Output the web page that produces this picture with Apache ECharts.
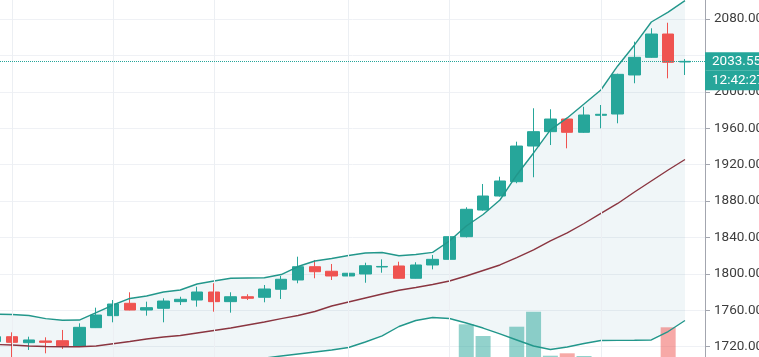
<!DOCTYPE html>
<html><head><meta charset="utf-8">
<script src="https://cdn.jsdelivr.net/npm/echarts@6/dist/echarts.min.js"></script>
<style>html,body{margin:0;padding:0;background:#fff;overflow:hidden}#c{width:759px;height:357px}</style>
</head><body><div id="c"></div>
<script>
// Candles (index 0 is the partly visible bar at the left edge)
const opens  = [1725.6,1731.0,1724.4,1726.3,1726.6,1720.8,1740.9,1754.1,1767.7,1760.3,1762.2,1769.5,1771.3,1780.1,1769.5,1774.9,1774.3,1783.1,1793.3,1807.9,1802.9,1797.7,1799.9,1807.6,1808.7,1795.2,1809.8,1816.0,1840.9,1870.2,1885.6,1901.3,1940.5,1956.3,1970.2,1955.6,1974.3,1975.7,2018.6,2038.0,2063.6,2032.9];
const closes = [1731.0,1724.8,1727.4,1724.8,1721.1,1741.3,1754.8,1766.9,1760.3,1762.9,1770.2,1772.1,1780.1,1769.5,1774.9,1773.2,1783.4,1794.1,1807.9,1802.4,1797.7,1800.7,1809.0,1808.2,1795.2,1809.8,1816.0,1840.9,1871.0,1885.6,1902.1,1940.5,1956.3,1970.2,1955.6,1974.6,1975.4,2019.3,2038.0,2063.6,2032.5,2033.55];
const lows   = [1722.0,1706.0,1716.4,1712.7,1717.5,1720.5,1740.5,1746.8,1760.0,1754.1,1746.8,1765.8,1764.0,1758.5,1757.4,1771.3,1768.8,1772.4,1789.7,1795.2,1793.3,1797.0,1790.3,1801.3,1795.0,1795.0,1805.0,1815.0,1840.0,1869.5,1885.0,1899.6,1906.2,1941.6,1938.0,1955.0,1960.0,1965.5,2009.5,2037.5,2014.9,2018.6];
const highs  = [1733.5,1735.8,1731.0,1730.3,1738.4,1745.7,1762.9,1771.3,1779.8,1769.5,1773.2,1774.9,1785.9,1789.7,1779.8,1777.6,1787.8,1797.7,1818.9,1815.3,1810.9,1814.2,1812.3,1816.0,1813.4,1812.8,1820.8,1843.8,1873.2,1898.8,1906.8,1945.3,1982.0,1980.9,1970.5,1983.7,1985.6,2020.0,2055.2,2069.9,2076.0,2036.1];
const volumes = [12,15,9,8,11,17,16,14,13,10,12,9,13,15,11,7,12,14,18,12,11,10,13,9,14,12,15,19,52.7,41,18,50.3,65.3,21.3,23.7,21,17,19,18,16,49.7,6];
// Bollinger bands
const upperBand = [1755.8,1755.4,1754.3,1750.8,1749.0,1749.3,1757.4,1765.8,1773.0,1775.7,1780.1,1782.3,1788.9,1792.2,1795.2,1795.5,1795.8,1799.3,1808.1,1814.2,1816.9,1820.2,1823.0,1823.5,1820.0,1821.3,1823.7,1836.2,1852.6,1865.3,1881.2,1908.7,1932.9,1958.2,1971.4,1986.7,2002.1,2028.5,2051.6,2076.8,2087.7,2100.3];
const basis     = [1722.5,1721.8,1720.8,1720.2,1720.0,1720.0,1720.8,1723.3,1725.7,1728.5,1730.7,1732.3,1735.1,1737.8,1740.5,1743.8,1747.1,1750.8,1754.3,1758.7,1764.7,1769.1,1773.5,1777.9,1782.0,1785.1,1788.4,1792.2,1797.7,1803.7,1809.8,1818.0,1826.3,1836.2,1845.0,1855.4,1866.4,1877.4,1890.0,1902.1,1914.2,1925.7];
const lowerBand = [1689,1688,1687,1690,1691,1691,1684,1681,1678,1681,1681,1682,1681,1688,1693,1700,1707.5,1709.8,1712.0,1714.2,1716.4,1719.1,1725.2,1731.8,1742.2,1748.8,1752.1,1751.0,1746.0,1740.5,1734.0,1727.4,1720.8,1716.9,1719.7,1723.5,1726.8,1727.0,1727.1,1727.4,1736.7,1748.8];
const timeGridIdx = [1,7,13,21,27,36];
const hiddenTickLabels = [2040];   // covered by the last-price label
const lastPrice = 2033.55;
const lastPriceText = '2033.55';
const countdownText = '12:42:27';

const UP = '#26a69a', DOWN = '#ef5350';
const chart = echarts.init(document.getElementById('c'), null, {renderer:'canvas'});
const candleData = opens.map((o,i)=>[i,o,closes[i],lows[i],highs[i]]);
const volData = volumes.map((v,i)=>({value:[i,v], itemStyle:{color: closes[i]>=opens[i] ? 'rgba(38,166,154,0.5)' : 'rgba(239,83,80,0.5)'}}));
const xMin = 0.285, xMax = 42.19;
const FONT = 'Roboto';

chart.setOption({
  animation:false,
  grid:[
    {left:0, right:54, top:-17.3, bottom:-26.1, outerBoundsMode:'none', containLabel:false},
    {left:0, right:54, bottom:-20, height:100, outerBoundsMode:'none', containLabel:false}
  ],
  xAxis:[
    {type:'value', gridIndex:0, min:xMin, max:xMax, show:false, splitLine:{show:false}},
    {type:'value', gridIndex:1, min:xMin, max:xMax, show:false, splitLine:{show:false}}
  ],
  yAxis:[
    {type:'value', gridIndex:0, position:'right', min:1680, max:2120, interval:40,
     axisLine:{show:true, lineStyle:{color:'#a3a6af'}},
     axisTick:{show:true, length:5, lineStyle:{color:'#a3a6af'}},
     axisLabel:{margin:9, color:'#3d3d3d', fontSize:13.5, fontFamily:FONT,
                formatter:v=>hiddenTickLabels.includes(v) ? '' : v.toFixed(2)},
     splitLine:{show:true, lineStyle:{color:'#eff1f5'}}},
    {type:'value', gridIndex:1, min:0, max:100, show:false, splitLine:{show:false}}
  ],
  series:[
    {type:'custom', xAxisIndex:0, yAxisIndex:0, z:0, silent:true,
     data: upperBand.map((u,i)=>[i,u]), encode:{x:0,y:1},
     renderItem:function(params, api){
       if (params.dataIndex !== 0) return null;
       const pts = [];
       for (let i=0;i<upperBand.length;i++) pts.push(api.coord([i, upperBand[i]]));
       for (let i=lowerBand.length-1;i>=0;i--) pts.push(api.coord([i, lowerBand[i]]));
       return {type:'polygon', shape:{points:pts}, style:{fill:'rgba(41,126,155,0.07)'}};
     },
     markLine:{silent:true, symbol:'none', label:{show:false}, animation:false,
       lineStyle:{color:'#eceff3', width:1, type:'solid'},
       data: timeGridIdx.map(v=>({xAxis:v}))}
    },
    {type:'bar', xAxisIndex:1, yAxisIndex:1, z:1, barWidth:15, data:volData, silent:true},
    {type:'candlestick', xAxisIndex:0, yAxisIndex:0, z:3, barWidth:12,
     data:candleData, encode:{x:0, y:[1,2,3,4]},
     itemStyle:{color:UP, color0:DOWN, borderColor:UP, borderColor0:DOWN, borderWidth:1},
     markLine:{silent:true, symbol:'none', animation:false,
       lineStyle:{color:UP, width:1, type:'dotted'},
       label:{show:true, position:'end', distance:0, formatter:lastPriceText, color:'#fff',
              backgroundColor:UP, padding:[2,7,2,7], fontSize:13.5, lineHeight:14, fontFamily:FONT},
       data:[{yAxis:lastPrice}]}
    },
    {type:'line', xAxisIndex:0, yAxisIndex:0, z:4, data:basis.map((v,i)=>[i,v]), showSymbol:false,
     lineStyle:{color:'#8a3540', width:1.4}},
    {type:'line', xAxisIndex:0, yAxisIndex:0, z:4, data:upperBand.map((v,i)=>[i,v]), showSymbol:false,
     lineStyle:{color:'#22978b', width:1.4}},
    {type:'line', xAxisIndex:0, yAxisIndex:0, z:4, data:lowerBand.map((v,i)=>[i,v]), showSymbol:false,
     lineStyle:{color:'#22978b', width:1.4}}
  ]
});
const py = chart.convertToPixel({yAxisIndex:0}, lastPrice);
const ax = chart.convertToPixel({xAxisIndex:0}, xMax);
chart.setOption({graphic:[{type:'text', x:ax, y:py+9, z:100, silent:true,
  style:{text:countdownText, fill:'#fff', font:'13.5px '+FONT, backgroundColor:UP, padding:[3,7,3,7], verticalAlign:'top', align:'left'}}]});
</script></body></html>
